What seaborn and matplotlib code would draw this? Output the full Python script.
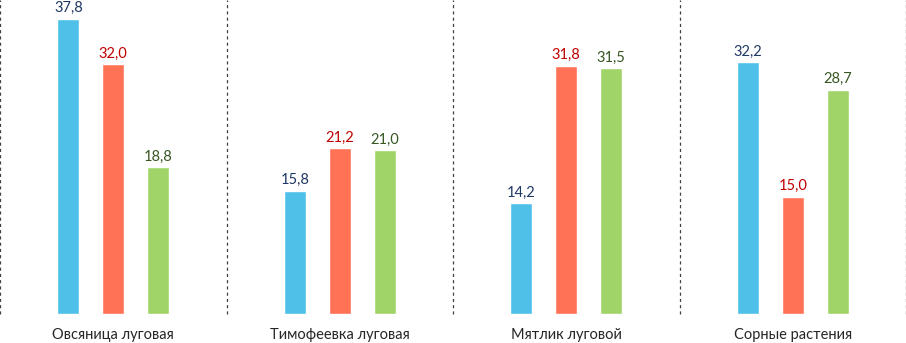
import matplotlib
matplotlib.use('Agg')
import matplotlib.pyplot as plt
import numpy as np
import pandas as pd
import seaborn as sns

# Data
categories = ['Овсяница луговая', 'Тимофеевка луговая', 'Мятлик луговой', 'Сорные растения']
series_names = ['s1', 's2', 's3']
series_1 = [37.8, 15.8, 14.2, 32.2]
series_2 = [32.0, 21.2, 31.8, 15.0]
series_3 = [18.8, 21.0, 31.5, 28.7]

bar_colors = ['#4FC1E9', '#FF7256', '#A0D468']
text_colors = ['#1F3864', '#C00000', '#385723']

df = pd.DataFrame({
    'cat': categories * 3,
    'series': [n for n in series_names for _ in categories],
    'value': series_1 + series_2 + series_3,
})

sns.set_style('white')
plt.rcParams['font.family'] = ['Lato', 'DejaVu Sans']

fig = plt.figure(figsize=(9.06, 3.43), dpi=100)
ax = fig.add_axes([0, 29 / 343, 1, 314 / 343])

sns.barplot(data=df, x='cat', y='value', hue='series', order=categories,
            hue_order=series_names, palette=bar_colors, width=0.595, gap=0.51,
            saturation=1, legend=False, ax=ax)

# value labels
for container, col in zip(ax.containers, text_colors):
    labels = [f'{v:.1f}'.replace('.', ',') for v in container.datavalues]
    ax.bar_label(container, labels=labels, padding=2.5, color=col, fontsize=10.5)

# dashed separators between groups
for xv in np.arange(-0.5, len(categories), 1.0):
    ax.axvline(xv, color='#404040', lw=0.9, ls=(0, (2.5, 2.5)), clip_on=False)

ax.set_xlim(-0.5, len(categories) - 0.5)
ax.set_ylim(0, 40.2)
ax.set_xlabel('')
ax.set_ylabel('')
ax.set_yticks([])
ax.tick_params(axis='x', length=0, pad=10, labelsize=10.5, labelcolor='#262626')
for s in ax.spines.values():
    s.set_visible(False)

plt.savefig('out.png', dpi=100)
